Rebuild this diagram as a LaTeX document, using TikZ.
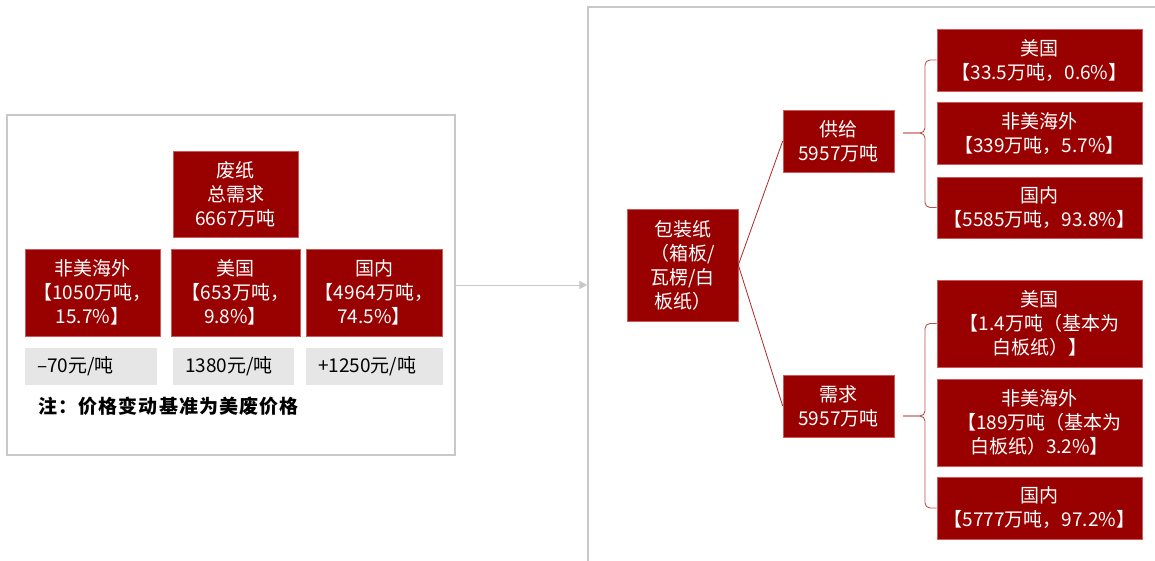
\documentclass[tikz,border=0pt]{standalone}
\usepackage{fontspec}
\setmainfont{Noto Sans CJK SC}
\usetikzlibrary{arrows.meta,calc}
\definecolor{boxred}{RGB}{153,0,0}
\definecolor{boxedge}{RGB}{205,90,90}
\definecolor{greybox}{RGB}{230,230,230}
\definecolor{framegrey}{RGB}{200,200,200}
\definecolor{bracered}{RGB}{190,80,80}
\definecolor{linkred}{RGB}{175,40,40}
\begin{document}
\begin{tikzpicture}[x=1pt,y=-1pt,
  redbox/.style={draw=boxedge,line width=0.6pt,fill=boxred,text=white,inner sep=0pt,
    align=center,font=\fontsize{19}{24}\selectfont},
  pricebox/.style={fill=greybox,text=black,inner sep=0pt,minimum height=37pt,
    text width=#1,align=left,font=\fontsize{19}{24}\selectfont},
  frame/.style={draw=framegrey,line width=1.3pt,inner sep=0pt},
  brace/.style={draw=bracered,line width=0.9pt,rounded corners=5pt},
  link/.style={draw=linkred,line width=0.8pt},
  flow/.style={draw=framegrey,line width=1pt,-{Triangle[length=8pt,width=8pt]}}]
\useasboundingbox (0,0) rectangle (1155,560);
% frames
\node[frame,minimum width=448pt,minimum height=340pt] (lframe) at (231,285) {};
\node[frame,minimum width=712pt,minimum height=693pt] (rframe) at (944,353.5) {};
% left panel
\node[redbox,minimum width=125pt,minimum height=86pt] (total) at (235.5,194) {废纸\\总需求\\6667万吨};
\node[redbox,minimum width=135pt,minimum height=87pt] (nonus) at (92.5,292.5) {非美海外\\【1050万吨，\\15.7\%】};
\node[redbox,minimum width=129pt,minimum height=87pt] (us) at (235.5,292.5) {美国\\【653万吨，\\9.8\%】};
\node[redbox,minimum width=136pt,minimum height=87pt] (dom) at (374,292.5) {国内\\【4964万吨，\\74.5\%】};
\node[pricebox=108pt,minimum width=132pt] (p1) at (91,366.5) {–70元/吨};
\node[pricebox=97pt,minimum width=121pt] (p2) at (233.5,366.5) {1380元/吨};
\node[pricebox=113pt,minimum width=137pt] (p3) at (374.5,366.5) {+1250元/吨};
\node[anchor=west,inner sep=0pt,font=\fontsize{19}{24}\selectfont\bfseries\addfontfeatures{LetterSpace=6}] (note) at (38,406) {注：价格变动基准为美废价格};
% arrow between panels
\draw[flow] (lframe.east) -- (rframe.west |- lframe.east);
% right panel
\node[redbox,minimum width=111pt,minimum height=112pt] (pkg) at (682.5,265) {包装纸\\（箱板/\\瓦楞/白\\板纸）};
\node[redbox,minimum width=111pt,minimum height=62pt] (supply) at (838.5,141) {供给\\5957万吨};
\node[redbox,minimum width=111pt,minimum height=62pt] (demand) at (838.5,406) {需求\\5957万吨};
\node[redbox,minimum width=205pt,minimum height=62pt] (s1) at (1039.5,60) {美国\\【33.5万吨，0.6\%】};
\node[redbox,minimum width=205pt,minimum height=62pt] (s2) at (1039.5,133) {非美海外\\【339万吨，5.7\%】};
\node[redbox,minimum width=205pt,minimum height=61pt] (s3) at (1039.5,207.5) {国内\\【5585万吨，93.8\%】};
\node[redbox,minimum width=205pt,minimum height=87pt] (d1) at (1039.5,323.5) {美国\\【1.4万吨（基本为\\白板纸）】};
\node[redbox,minimum width=205pt,minimum height=87pt] (d2) at (1039.5,422.5) {非美海外\\【189万吨（基本为\\白板纸）3.2\%】};
\node[redbox,minimum width=205pt,minimum height=62pt] (d3) at (1039.5,508) {国内\\【5777万吨，97.2\%】};
% connectors
\draw[link] (pkg.east) -- (supply.west);
\draw[link] (pkg.east) -- (demand.west);
\coordinate (stip) at (903,133);
\coordinate (dtip) at (903,416);
\draw[brace] (s1.west) -| ($(stip)+(22,0)$) -- (stip);
\draw[brace] (s3.west) -| ($(stip)+(22,0)$) -- (stip);
\draw[brace] (d1.west) -| ($(dtip)+(22,0)$) -- (dtip);
\draw[brace] (d3.west) -| ($(dtip)+(22,0)$) -- (dtip);
\end{tikzpicture}
\end{document}
